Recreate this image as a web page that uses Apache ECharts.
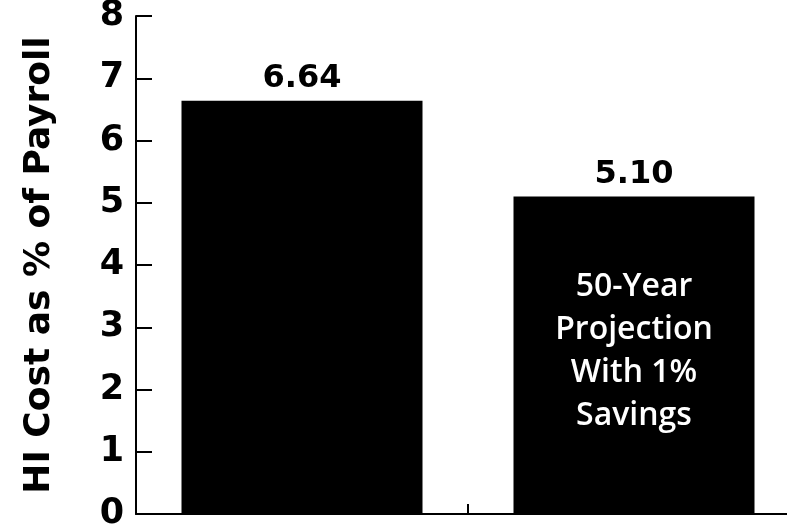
<!DOCTYPE html>
<html>
<head>
<meta charset="utf-8">
<script src="https://cdn.jsdelivr.net/npm/echarts@6/dist/echarts.min.js"></script>
<style>
  html, body { margin: 0; padding: 0; background: #fff; }
  #chart { width: 787px; height: 530px; }
</style>
</head>
<body>
<div id="chart"></div>
<script>
// data
const categories = ['Current', '50-Year Projection With 1% Savings'];
const costValues = [6.64, 5.10];
const insideNotes = ['', '50-Year\nProjection\nWith 1%\nSavings'];
const yTicks = [0, 1, 2, 3, 4, 5, 6, 7, 8];

let chartDom = document.getElementById('chart');
let myChart = echarts.init(chartDom);
let option;

option = {
  animation: false,
  grid: {
    left: 136,
    top: 16,
    width: 664,
    bottom: 16,
    outerBoundsMode: 'none',
  },
  xAxis: {
    type: 'category',
    data: categories,
    axisLine: { lineStyle: { color: '#000', width: 2 } },
    axisTick: { show: true, interval: 0, inside: true, length: 10, lineStyle: { color: '#000', width: 2 } },
    axisLabel: { show: true, interval: 0, formatter: () => '' },
  },
  yAxis: {
    type: 'value',
    min: yTicks[0],
    max: yTicks[yTicks.length - 1],
    interval: 1,
    name: 'HI Cost as % of Payroll',
    nameLocation: 'middle',
    nameGap: 78,
    nameTextStyle: {
      fontFamily: 'DejaVu Sans',
      fontWeight: 'bold',
      fontSize: 36,
      color: '#000',
    },
    axisLine: { show: true, lineStyle: { color: '#000', width: 2 } },
    axisTick: { show: true, inside: true, length: 16, lineStyle: { color: '#000', width: 2 } },
    splitLine: { show: false },
    axisLabel: {
      margin: 12,
      fontFamily: 'DejaVu Sans',
      fontWeight: 'bold',
      fontSize: 35,
      color: '#000',
    },
  },
  series: [
    {
      name: 'HI cost',
      type: 'bar',
      barWidth: 241,
      data: costValues,
      itemStyle: { color: '#000' },
      label: {
        show: true,
        position: 'top',
        distance: 6,
        formatter: (p) => p.value.toFixed(2),
        fontFamily: 'DejaVu Sans',
        fontWeight: 'bold',
        fontSize: 32,
        color: '#000',
      },
    },
    {
      name: 'note',
      type: 'bar',
      barWidth: 241,
      barGap: '-100%',
      data: costValues,
      itemStyle: { color: 'rgba(0,0,0,0)' },
      z: 3,
      label: {
        show: true,
        position: 'inside',
        offset: [0, -4],
        formatter: (p) => insideNotes[p.dataIndex],
        fontFamily: 'Open Sans',
        fontWeight: 600,
        fontSize: 32,
        lineHeight: 43,
        color: '#fff',
      },
    },
  ],
};

option && myChart.setOption(option);
</script>
</body>
</html>
